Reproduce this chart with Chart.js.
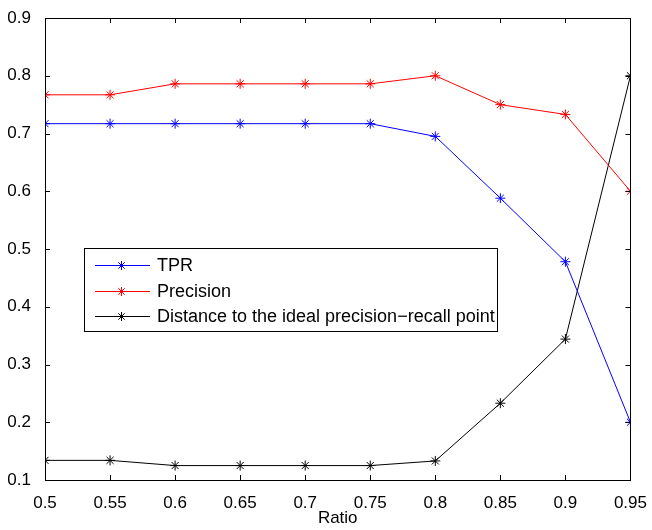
<!DOCTYPE html>
<html>
<head>
<meta charset="utf-8">
<script src="https://cdn.jsdelivr.net/npm/chart.js@4"></script>
<style>
  html, body { margin: 0; padding: 0; background: #fff; }
  #wrap { width: 652px; height: 530px; }
</style>
</head>
<body>
<div id="wrap"><canvas id="myChart" width="652" height="530"></canvas></div>
<script>
'use strict';

const ratios = [0.5, 0.55, 0.6, 0.65, 0.7, 0.75, 0.8, 0.85, 0.9, 0.95];
const tpr = [0.717, 0.717, 0.717, 0.717, 0.717, 0.717, 0.695, 0.588, 0.478, 0.2];
const precision = [0.767, 0.767, 0.786, 0.786, 0.786, 0.786, 0.8, 0.75, 0.733, 0.6];
const distance = [0.134, 0.134, 0.125, 0.125, 0.125, 0.125, 0.133, 0.233, 0.344, 0.8];
const seriesNames = ['TPR', 'Precision', 'Distance to the ideal precision\u2212recall point'];
const seriesColors = ['#0000ff', '#ff0000', '#000000'];

const font = 'Liberation Sans, Arial, Helvetica, sans-serif';

function toPoints(values) {
    return ratios.map((r, i) => ({ x: r, y: values[i] }));
}

function drawStar(ctx, x, y, r) {
    const d = r * Math.SQRT1_2;
    ctx.beginPath();
    ctx.moveTo(x - r, y); ctx.lineTo(x + r, y);
    ctx.moveTo(x, y - r); ctx.lineTo(x, y + r);
    ctx.moveTo(x - d, y - d); ctx.lineTo(x + d, y + d);
    ctx.moveTo(x - d, y + d); ctx.lineTo(x + d, y - d);
    ctx.stroke();
}

// matlab style box, inward ticks and legend inside the axes
const matlabFrame = {
    id: 'matlabFrame',
    afterDraw(chart) {
        const ctx = chart.ctx;
        const a = chart.chartArea;
        const xs = chart.scales.x;
        const ys = chart.scales.y;
        const tl = 5;

        ctx.save();
        ctx.strokeStyle = '#000';
        ctx.lineWidth = 1;
        ctx.strokeRect(Math.round(a.left) + 0.5, Math.round(a.top) + 0.5,
            Math.round(a.right - a.left), Math.round(a.bottom - a.top));

        ctx.beginPath();
        xs.ticks.forEach(t => {
            const px = Math.round(xs.getPixelForValue(t.value)) + 0.5;
            ctx.moveTo(px, a.bottom); ctx.lineTo(px, a.bottom - tl);
            ctx.moveTo(px, a.top); ctx.lineTo(px, a.top + tl);
        });
        ys.ticks.forEach(t => {
            const py = Math.round(ys.getPixelForValue(t.value)) + 0.5;
            ctx.moveTo(a.left, py); ctx.lineTo(a.left + tl, py);
            ctx.moveTo(a.right, py); ctx.lineTo(a.right - tl, py);
        });
        ctx.stroke();

        // legend
        const lx = a.left + 39;
        const ly = a.top + 230;
        const lw = 413;
        const lh = 83;
        ctx.fillStyle = '#fff';
        ctx.fillRect(lx, ly, lw, lh);
        ctx.strokeRect(Math.round(lx) + 0.5, Math.round(ly) + 0.5, lw, lh);
        ctx.font = '18px ' + font;
        ctx.textBaseline = 'middle';
        seriesNames.forEach((name, i) => {
            const y = Math.round(ly + 17 + i * 25.7) + 0.5;
            ctx.strokeStyle = seriesColors[i];
            ctx.beginPath();
            ctx.moveTo(lx + 11, y); ctx.lineTo(lx + 66, y);
            ctx.stroke();
            drawStar(ctx, lx + 37.5, y, 4.5);
            ctx.fillStyle = '#000';
            ctx.fillText(name, lx + 73, y + 1);
        });
        ctx.restore();
    }
};

const ctx = document.getElementById('myChart').getContext('2d');

new Chart(ctx, {
    type: 'line',
    data: {
        datasets: [tpr, precision, distance].map((vals, i) => ({
            label: seriesNames[i],
            data: toPoints(vals),
            borderColor: seriesColors[i],
            backgroundColor: seriesColors[i],
            borderWidth: 1,
            pointStyle: 'star',
            pointRadius: 5,
            pointBorderWidth: 1,
            pointBorderColor: seriesColors[i],
            fill: false,
            tension: 0
        }))
    },
    options: {
        responsive: false,
        animation: false,
        layout: { padding: { top: 18, right: 20, left: 0, bottom: 0 } },
        plugins: {
            legend: { display: false },
            tooltip: { enabled: false }
        },
        scales: {
            x: {
                type: 'linear',
                min: 0.5,
                max: 0.95,
                grid: { display: false },
                border: { display: false },
                ticks: {
                    stepSize: 0.05,
                    padding: 5,
                    color: '#000',
                    font: { family: font, size: 17 },
                    maxRotation: 0,
                    callback: v => String(Number(v.toFixed(2)))
                },
                title: {
                    display: true,
                    text: 'Ratio',
                    color: '#000',
                    padding: { top: 0, bottom: 1 },
                    font: { family: font, size: 17 }
                },
                afterFit: s => { s.height = 50; }
            },
            y: {
                min: 0.1,
                max: 0.9,
                grid: { display: false },
                border: { display: false },
                ticks: {
                    stepSize: 0.1,
                    padding: 6,
                    color: '#000',
                    font: { family: font, size: 17 },
                    callback: v => String(Number(v.toFixed(1)))
                },
                afterFit: s => { s.width = 45; }
            }
        }
    },
    plugins: [matlabFrame]
});
</script>
</body>
</html>
